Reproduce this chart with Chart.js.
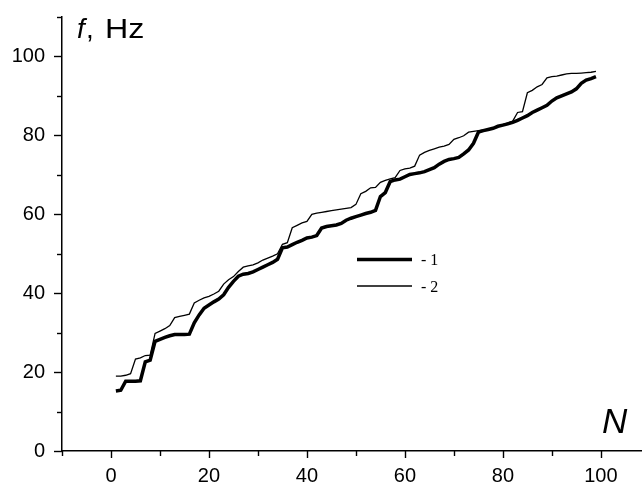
<!DOCTYPE html>
<html>
<head>
<meta charset="utf-8">
<script src="https://cdn.jsdelivr.net/npm/chart.js@4.4.1/dist/chart.umd.min.js"></script>
<style>
  html, body { margin: 0; padding: 0; background: #fff; }
  #wrap { position: relative; width: 642px; height: 483px; }
</style>
</head>
<body>
<div id="wrap"><canvas id="chart"></canvas></div>
<script>
// mode number N
const N = [
  1, 2, 3, 4, 5, 6, 7, 8, 9, 10, 11, 12, 13, 14, 15, 16, 17, 18, 19, 20,
  21, 22, 23, 24, 25, 26, 27, 28, 29, 30, 31, 32, 33, 34, 35, 36, 37, 38, 39, 40,
  41, 42, 43, 44, 45, 46, 47, 48, 49, 50, 51, 52, 53, 54, 55, 56, 57, 58, 59, 60,
  61, 62, 63, 64, 65, 66, 67, 68, 69, 70, 71, 72, 73, 74, 75, 76, 77, 78, 79, 80,
  81, 82, 83, 84, 85, 86, 87, 88, 89, 90, 91, 92, 93, 94, 95, 96, 97, 98, 99
];

// frequency, Hz - curve 1 (thick)
const f1 = [
  15.2, 15.4, 17.7, 17.7, 17.7, 17.8, 22.6, 23.0, 27.8, 28.3,
  28.8, 29.2, 29.5, 29.5, 29.5, 29.6, 32.5, 34.5, 36.2, 37.0,
  37.8, 38.5, 39.6, 41.5, 43.0, 44.3, 44.8, 45.0, 45.4, 46.0,
  46.6, 47.2, 47.8, 48.6, 51.5, 51.7, 52.3, 52.9, 53.4, 54.0,
  54.2, 54.6, 56.5, 56.9, 57.1, 57.3, 57.7, 58.5, 59.0, 59.4,
  59.8, 60.2, 60.5, 61.0, 64.5, 65.5, 68.3, 68.7, 68.9, 69.5,
  70.1, 70.3, 70.5, 70.8, 71.3, 71.8, 72.7, 73.4, 73.9, 74.1,
  74.4, 75.3, 76.3, 78.0, 80.8, 81.2, 81.5, 81.8, 82.3, 82.6,
  82.9, 83.3, 83.8, 84.4, 85.0, 85.8, 86.4, 87.0, 87.6, 88.7,
  89.5, 90.0, 90.5, 91.0, 91.8, 93.2, 94.0, 94.4, 94.9
];

// frequency, Hz - curve 2 (thin)
const f2 = [
  19.0, 19.0, 19.2, 19.6, 23.3, 23.6, 24.2, 24.3, 29.8, 30.4,
  31.0, 31.8, 33.8, 34.1, 34.4, 34.7, 37.5, 38.2, 38.8, 39.2,
  39.8, 40.5, 42.3, 43.4, 44.2, 45.5, 46.6, 46.9, 47.2, 47.7,
  48.4, 48.9, 49.4, 50.0, 52.4, 52.8, 56.6, 57.2, 57.8, 58.2,
  60.0, 60.3, 60.5, 60.7, 60.9, 61.1, 61.3, 61.5, 61.7, 62.5,
  65.2, 65.8, 66.7, 66.8, 68.1, 68.6, 69.0, 69.3, 71.1, 71.5,
  71.7, 72.2, 75.0, 75.7, 76.2, 76.6, 77.0, 77.3, 77.7, 79.0,
  79.4, 79.9, 80.8, 81.0, 81.2, 81.4, 81.5, 81.8, 82.3, 82.7,
  83.2, 83.6, 85.8, 86.0, 90.8, 91.4, 92.3, 92.9, 94.6, 94.9,
  95.0, 95.3, 95.6, 95.7, 95.7, 95.8, 95.9, 96.0, 96.2
];

const xTickValues = [-10, 0, 10, 20, 30, 40, 50, 60, 70, 80, 90, 100];
const yTickValues = [0, 10, 20, 30, 40, 50, 60, 70, 80, 90, 100, 110];
const legendLabels = ['- 1', '- 2'];

const toPoints = (ys) => N.map((n, i) => ({ x: n, y: ys[i] }));

// major/minor tick marks drawn outward from both axes
const axisTicks = {
  id: 'axisTicks',
  afterDraw(chart) {
    const ctx = chart.ctx;
    const xs = chart.scales.x, ys = chart.scales.y;
    ctx.save();
    ctx.strokeStyle = '#000';
    ctx.lineWidth = 1.4;
    xTickValues.forEach(v => {
      const px = Math.round(xs.getPixelForValue(v)) + 0.5;
      const len = (v % 20 === 0) ? 7 : 5;
      ctx.beginPath();
      ctx.moveTo(px, ys.bottom);
      ctx.lineTo(px, ys.bottom + len);
      ctx.stroke();
    });
    yTickValues.forEach(v => {
      const py = Math.round(ys.getPixelForValue(v)) + 0.5;
      const len = (v % 20 === 0) ? 8 : 5;
      ctx.beginPath();
      ctx.moveTo(xs.left, py);
      ctx.lineTo(xs.left - len, py);
      ctx.stroke();
    });
    ctx.restore();
  }
};

// axis titles and the small line key
const annotations = {
  id: 'annotations',
  afterDraw(chart) {
    const ctx = chart.ctx;
    ctx.save();
    ctx.fillStyle = '#000';
    ctx.textBaseline = 'alphabetic';

    ctx.font = 'italic 28px "Liberation Sans", Arial, sans-serif';
    ctx.fillText('f', 77, 38);
    ctx.font = '28px "Liberation Sans", Arial, sans-serif';
    ctx.fillText(',', 86, 38);
    ctx.save();
    ctx.translate(105, 38);
    ctx.scale(1.15, 1);
    ctx.fillText('Hz', 0, 0);
    ctx.restore();

    ctx.font = 'italic 35px "Liberation Sans", Arial, sans-serif';
    ctx.fillText('N', 602, 433);

    ctx.strokeStyle = '#000';
    ctx.lineWidth = 3.5;
    ctx.beginPath(); ctx.moveTo(357, 259.5); ctx.lineTo(412, 259.5); ctx.stroke();
    ctx.lineWidth = 1.3;
    ctx.beginPath(); ctx.moveTo(357, 286); ctx.lineTo(412, 286); ctx.stroke();

    ctx.font = '16px "Liberation Serif", "Times New Roman", serif';
    ctx.fillText(legendLabels[0], 421, 265);
    ctx.fillText(legendLabels[1], 421, 292);
    ctx.restore();
  }
};

new Chart(document.getElementById('chart'), {
  type: 'line',
  data: {
    datasets: [
      { label: '1', data: toPoints(f1), borderColor: '#000', borderWidth: 3.5, pointRadius: 0, tension: 0, fill: false },
      { label: '2', data: toPoints(f2), borderColor: '#000', borderWidth: 1.3, pointRadius: 0, tension: 0, fill: false }
    ]
  },
  options: {
    responsive: true,
    maintainAspectRatio: false,
    animation: false,
    events: [],
    layout: { padding: { top: 17, right: 0, left: 0, bottom: 0 } },
    plugins: { legend: { display: false }, tooltip: { enabled: false } },
    scales: {
      x: {
        type: 'linear',
        min: -10,
        max: 108.4,
        afterFit: (scale) => { scale.height = 32; scale.paddingRight = 0; },
        grid: { display: false, drawTicks: false },
        border: { display: true, color: '#000', width: 1.5 },
        ticks: {
          stepSize: 10,
          includeBounds: false,
          autoSkip: false,
          maxRotation: 0,
          padding: 13,
          color: '#000',
          font: { family: '"Liberation Sans", Arial, sans-serif', size: 20 },
          callback: (v) => (v >= 0 && v % 20 === 0) ? String(v) : ''
        }
      },
      y: {
        min: 0,
        max: 110,
        afterFit: (scale) => { scale.width = 62; scale.paddingTop = 0; },
        grid: { display: false, drawTicks: false },
        border: { display: true, color: '#000', width: 1.5 },
        ticks: {
          stepSize: 10,
          autoSkip: false,
          padding: 17,
          color: '#000',
          font: { family: '"Liberation Sans", Arial, sans-serif', size: 20 },
          callback: (v) => (v % 20 === 0 && v <= 100) ? String(v) : ''
        }
      }
    }
  },
  plugins: [axisTicks, annotations]
});
</script>
</body>
</html>
